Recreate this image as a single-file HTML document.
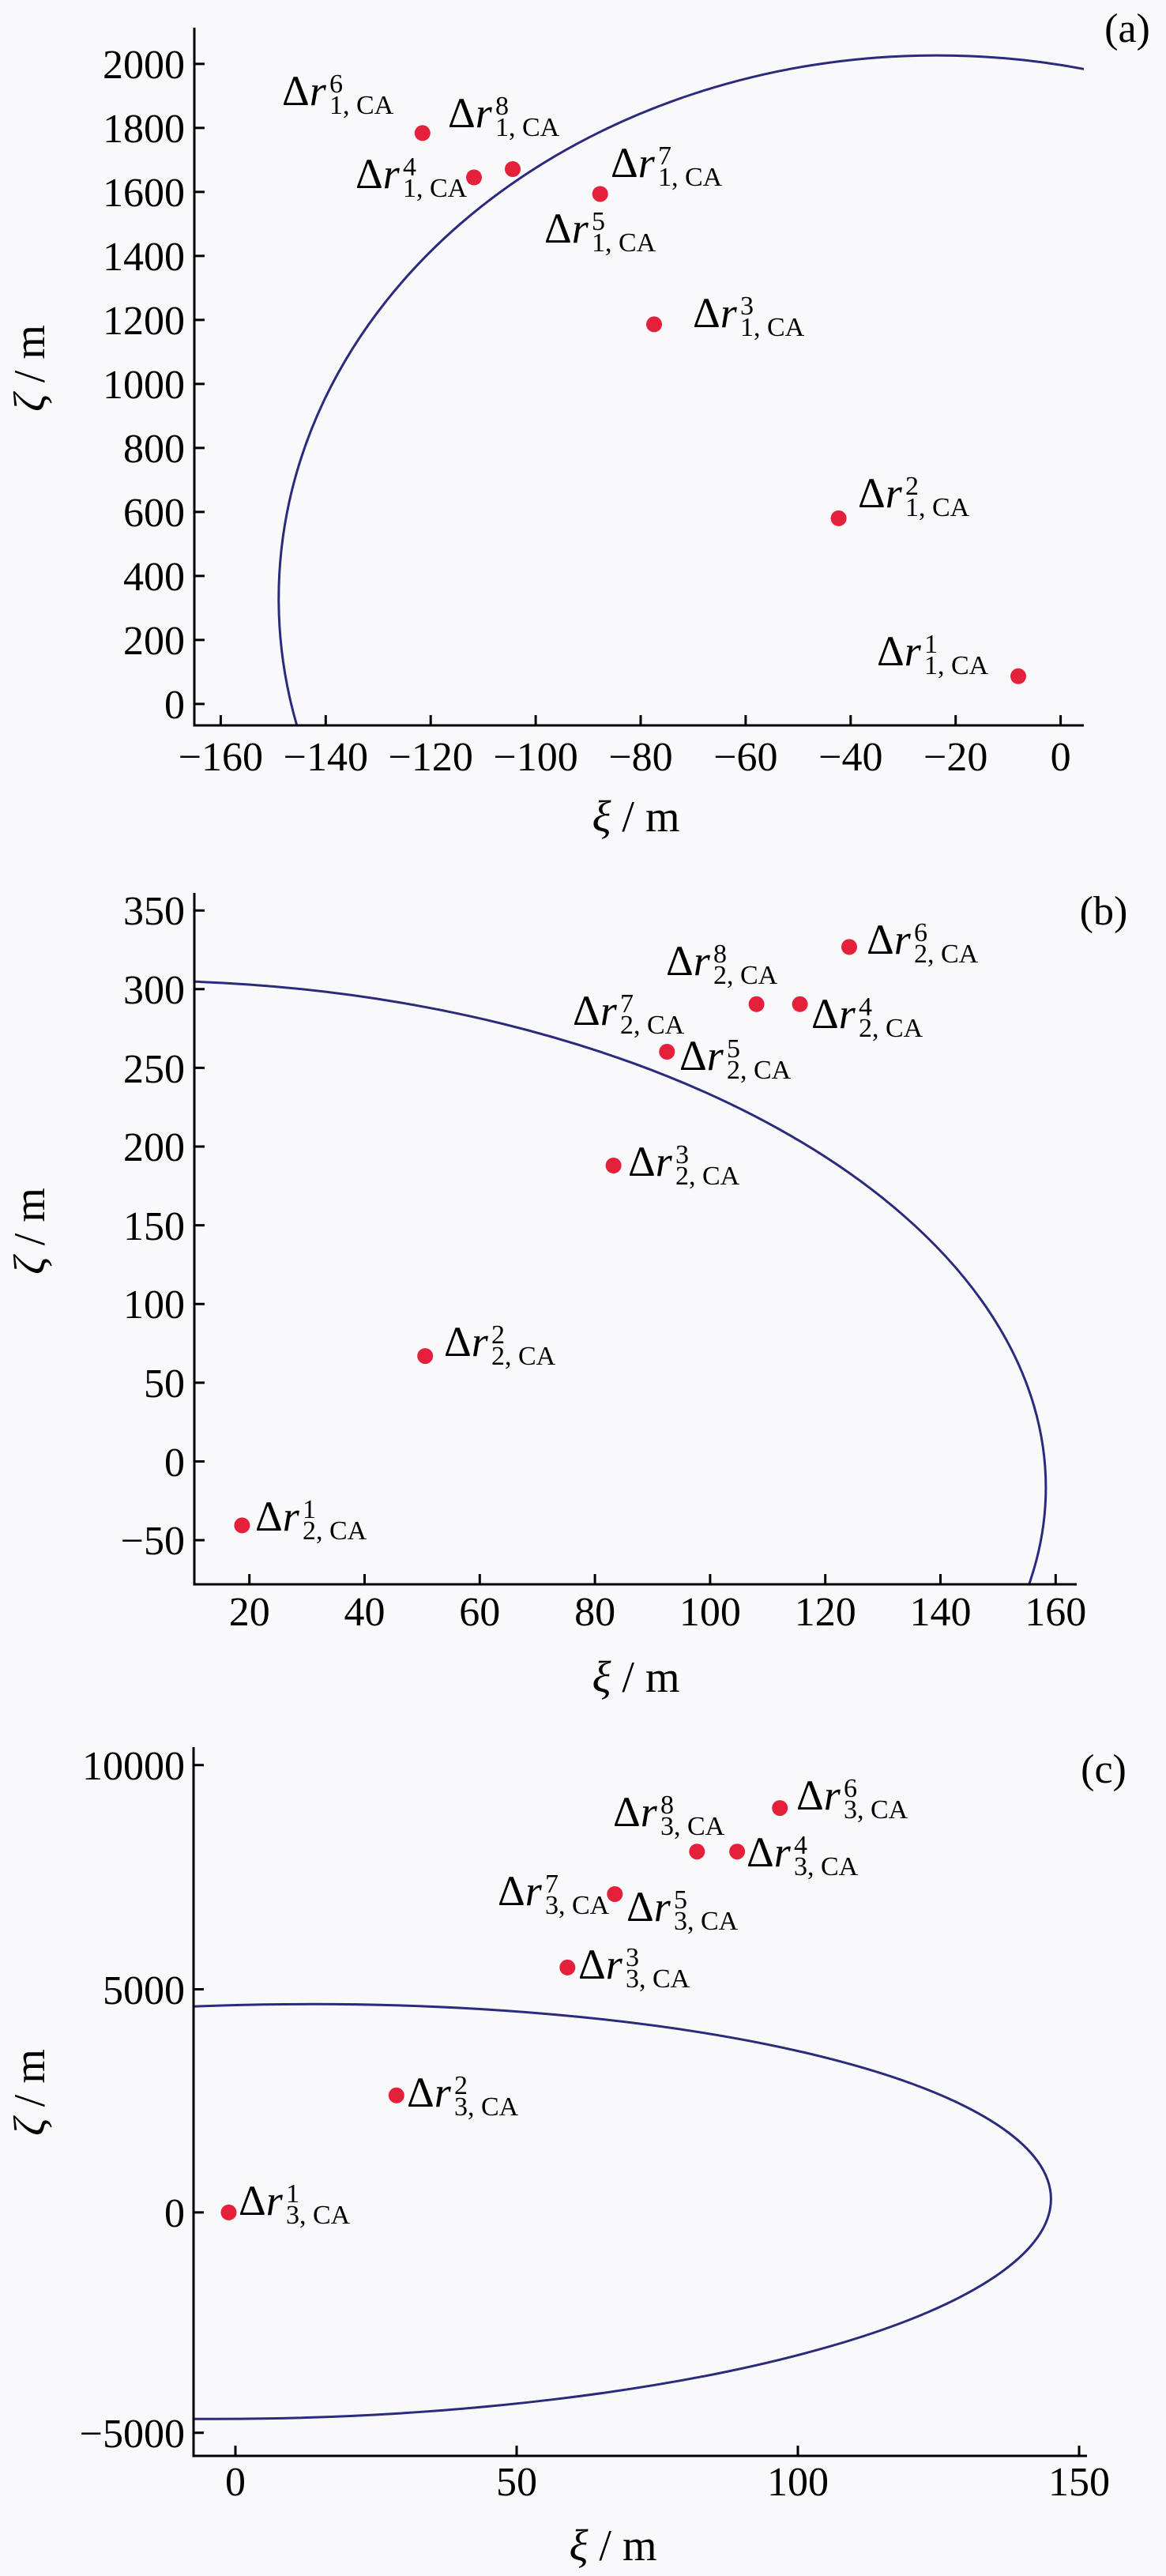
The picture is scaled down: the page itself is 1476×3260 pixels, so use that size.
<!DOCTYPE html>
<html><head><meta charset="utf-8"><style>
html,body{margin:0;padding:0;background:#f9f9fb;}
svg{display:block;font-family:"Liberation Serif",serif;}
</style></head><body>
<svg width="1476" height="3260" viewBox="0 0 1476 3260" xmlns="http://www.w3.org/2000/svg">
<rect width="1476" height="3260" fill="#f9f9fb"/>
<defs>
<clipPath id="ca"><rect x="246" y="35" width="1126" height="883"/></clipPath>
<clipPath id="cb"><rect x="246" y="1130" width="1117" height="875"/></clipPath>
<clipPath id="cc"><rect x="245" y="2211" width="1131" height="897"/></clipPath>
</defs>

<!-- ===== Panel A ===== -->
<g clip-path="url(#ca)"><ellipse cx="1185.8" cy="757.6" rx="833" ry="687.5" fill="none" stroke="#2b2b7e" stroke-width="3"/></g>
<g stroke="#000" stroke-width="3" fill="none">
<path d="M246 35 V918 H1372"/>
<path d="M279.4 918v-13M412.3 918v-13M545.2 918v-13M678.1 918v-13M811 918v-13M943.9 918v-13M1076.8 918v-13M1209.7 918v-13M1342.6 918v-13"/>
<path d="M246 890.9h13M246 809.9h13M246 728.9h13M246 647.9h13M246 566.9h13M246 485.9h13M246 404.9h13M246 323.9h13M246 242.9h13M246 161.9h13M246 80.9h13"/>
</g>
<g font-size="52" text-anchor="middle">
<text x="279.4" y="975">−160</text><text x="412.3" y="975">−140</text><text x="545.2" y="975">−120</text><text x="678.1" y="975">−100</text><text x="811" y="975">−80</text><text x="943.9" y="975">−60</text><text x="1076.8" y="975">−40</text><text x="1209.7" y="975">−20</text><text x="1342.6" y="975">0</text>
</g>
<g font-size="52" text-anchor="end">
<text x="234" y="909">0</text><text x="234" y="828">200</text><text x="234" y="747">400</text><text x="234" y="666">600</text><text x="234" y="585">800</text><text x="234" y="504">1000</text><text x="234" y="423">1200</text><text x="234" y="342">1400</text><text x="234" y="261">1600</text><text x="234" y="180">1800</text><text x="234" y="99">2000</text>
</g>
<text x="805" y="1052" font-size="56" text-anchor="middle"><tspan font-style="italic">ξ</tspan> / m</text>
<text transform="translate(56,466) rotate(-90)" font-size="56" text-anchor="middle"><tspan font-style="italic">ζ</tspan> / m</text>
<text x="1427" y="53" font-size="52" text-anchor="middle">(a)</text>
<g fill="#e5203a">
<circle cx="1289" cy="855.8" r="10"/><circle cx="1061.6" cy="655.9" r="10"/><circle cx="828" cy="410.4" r="10"/><circle cx="600" cy="224.5" r="10"/><circle cx="759.7" cy="245.5" r="10"/><circle cx="534.8" cy="168.4" r="10"/><circle cx="649" cy="214" r="10"/>
</g>

<!-- ===== Panel B ===== -->
<g clip-path="url(#cb)"><ellipse cx="169.9" cy="1882.4" rx="1154" ry="641.5" fill="none" stroke="#2b2b7e" stroke-width="3"/></g>
<g stroke="#000" stroke-width="3" fill="none">
<path d="M246 1130 V2005 H1363"/>
<path d="M315.7 2005v-13M461.5 2005v-13M607.3 2005v-13M753.1 2005v-13M898.9 2005v-13M1044.7 2005v-13M1190.5 2005v-13M1336.3 2005v-13"/>
<path d="M246 1949.1h13M246 1849.5h13M246 1749.9h13M246 1650.2h13M246 1550.6h13M246 1451h13M246 1351.4h13M246 1251.8h13M246 1152.2h13"/>
</g>
<g font-size="52" text-anchor="middle">
<text x="315.7" y="2057">20</text><text x="461.5" y="2057">40</text><text x="607.3" y="2057">60</text><text x="753.1" y="2057">80</text><text x="898.9" y="2057">100</text><text x="1044.7" y="2057">120</text><text x="1190.5" y="2057">140</text><text x="1336.3" y="2057">160</text>
</g>
<g font-size="52" text-anchor="end">
<text x="234" y="1967">−50</text><text x="234" y="1868">0</text><text x="234" y="1768">50</text><text x="234" y="1668">100</text><text x="234" y="1569">150</text><text x="234" y="1469">200</text><text x="234" y="1370">250</text><text x="234" y="1270">300</text><text x="234" y="1170">350</text>
</g>
<text x="805" y="2141" font-size="56" text-anchor="middle"><tspan font-style="italic">ξ</tspan> / m</text>
<text transform="translate(56,1558) rotate(-90)" font-size="56" text-anchor="middle"><tspan font-style="italic">ζ</tspan> / m</text>
<text x="1397" y="1170" font-size="52" text-anchor="middle">(b)</text>
<g fill="#e5203a">
<circle cx="306.4" cy="1930.4" r="10"/><circle cx="538.2" cy="1716.1" r="10"/><circle cx="776.6" cy="1475" r="10"/><circle cx="844.3" cy="1331" r="10"/><circle cx="957.6" cy="1270.8" r="10"/><circle cx="1012.6" cy="1270.8" r="10"/><circle cx="1075" cy="1198.4" r="10"/>
</g>

<!-- ===== Panel C ===== -->
<g clip-path="url(#cc)"><ellipse cx="0" cy="0" rx="996.8" ry="262" transform="translate(333.6,2798.8) matrix(1,-0.0159,0,1,0,0)" fill="none" stroke="#2b2b7e" stroke-width="3"/></g>
<g stroke="#000" stroke-width="3" fill="none">
<path d="M245 2211 V3108 H1376"/>
<path d="M298 3108v-13M654 3108v-13M1010 3108v-13M1366 3108v-13"/>
<path d="M245 3078.8h13M245 2799.9h13M245 2517.5h13M245 2233.7h13"/>
</g>
<g font-size="52" text-anchor="middle">
<text x="298" y="3158">0</text><text x="654" y="3158">50</text><text x="1010" y="3158">100</text><text x="1366" y="3158">150</text>
</g>
<g font-size="52" text-anchor="end">
<text x="234" y="3097">−5000</text><text x="234" y="2818">0</text><text x="234" y="2536">5000</text><text x="234" y="2252">10000</text>
</g>
<text x="776" y="3240" font-size="56" text-anchor="middle"><tspan font-style="italic">ξ</tspan> / m</text>
<text transform="translate(56,2648) rotate(-90)" font-size="56" text-anchor="middle"><tspan font-style="italic">ζ</tspan> / m</text>
<text x="1397" y="2256" font-size="52" text-anchor="middle">(c)</text>
<g fill="#e5203a">
<circle cx="289.5" cy="2799.9" r="10"/><circle cx="501.8" cy="2651.8" r="10"/><circle cx="718.3" cy="2489.9" r="10"/><circle cx="778.3" cy="2397" r="10"/><circle cx="882.3" cy="2343.2" r="10"/><circle cx="933.1" cy="2343.2" r="10"/><circle cx="987.2" cy="2288.1" r="10"/>
</g>

<!-- ===== Labels ===== -->
<g font-size="54" id="labels">
<!-- panel a -->
<text x="357" y="133">Δ<tspan font-style="italic">r</tspan></text>
<text x="567" y="161">Δ<tspan font-style="italic">r</tspan></text>
<text x="450" y="238">Δ<tspan font-style="italic">r</tspan></text>
<text x="773" y="224">Δ<tspan font-style="italic">r</tspan></text>
<text x="689" y="307">Δ<tspan font-style="italic">r</tspan></text>
<text x="877" y="414">Δ<tspan font-style="italic">r</tspan></text>
<text x="1086" y="642">Δ<tspan font-style="italic">r</tspan></text>
<text x="1110" y="842">Δ<tspan font-style="italic">r</tspan></text>
<!-- panel b -->
<text x="323" y="1937">Δ<tspan font-style="italic">r</tspan></text>
<text x="562" y="1716">Δ<tspan font-style="italic">r</tspan></text>
<text x="795" y="1488">Δ<tspan font-style="italic">r</tspan></text>
<text x="860" y="1354">Δ<tspan font-style="italic">r</tspan></text>
<text x="725" y="1297">Δ<tspan font-style="italic">r</tspan></text>
<text x="843" y="1234">Δ<tspan font-style="italic">r</tspan></text>
<text x="1027" y="1301">Δ<tspan font-style="italic">r</tspan></text>
<text x="1097" y="1207">Δ<tspan font-style="italic">r</tspan></text>
<!-- panel c -->
<text x="302" y="2803">Δ<tspan font-style="italic">r</tspan></text>
<text x="515" y="2666">Δ<tspan font-style="italic">r</tspan></text>
<text x="732" y="2504">Δ<tspan font-style="italic">r</tspan></text>
<text x="793" y="2431">Δ<tspan font-style="italic">r</tspan></text>
<text x="630" y="2411">Δ<tspan font-style="italic">r</tspan></text>
<text x="776" y="2311">Δ<tspan font-style="italic">r</tspan></text>
<text x="945" y="2362">Δ<tspan font-style="italic">r</tspan></text>
<text x="1008" y="2290">Δ<tspan font-style="italic">r</tspan></text>
</g>
<g font-size="34">
<!-- sup (y-16) and sub (y+11), x+60 -->
<text x="417" y="117">6</text><text x="417" y="144">1, CA</text>
<text x="627" y="145">8</text><text x="627" y="172">1, CA</text>
<text x="510" y="222">4</text><text x="510" y="249">1, CA</text>
<text x="833" y="208">7</text><text x="833" y="235">1, CA</text>
<text x="749" y="291">5</text><text x="749" y="318">1, CA</text>
<text x="937" y="398">3</text><text x="937" y="425">1, CA</text>
<text x="1146" y="626">2</text><text x="1146" y="653">1, CA</text>
<text x="1170" y="826">1</text><text x="1170" y="853">1, CA</text>

<text x="383" y="1921">1</text><text x="383" y="1948">2, CA</text>
<text x="622" y="1700">2</text><text x="622" y="1727">2, CA</text>
<text x="855" y="1472">3</text><text x="855" y="1499">2, CA</text>
<text x="920" y="1338">5</text><text x="920" y="1365">2, CA</text>
<text x="785" y="1281">7</text><text x="785" y="1308">2, CA</text>
<text x="903" y="1218">8</text><text x="903" y="1245">2, CA</text>
<text x="1087" y="1285">4</text><text x="1087" y="1312">2, CA</text>
<text x="1157" y="1191">6</text><text x="1157" y="1218">2, CA</text>

<text x="362" y="2787">1</text><text x="362" y="2814">3, CA</text>
<text x="575" y="2650">2</text><text x="575" y="2677">3, CA</text>
<text x="792" y="2488">3</text><text x="792" y="2515">3, CA</text>
<text x="853" y="2415">5</text><text x="853" y="2442">3, CA</text>
<text x="690" y="2395">7</text><text x="690" y="2422">3, CA</text>
<text x="836" y="2295">8</text><text x="836" y="2322">3, CA</text>
<text x="1005" y="2346">4</text><text x="1005" y="2373">3, CA</text>
<text x="1068" y="2274">6</text><text x="1068" y="2301">3, CA</text>
</g>
</svg>
</body></html>
